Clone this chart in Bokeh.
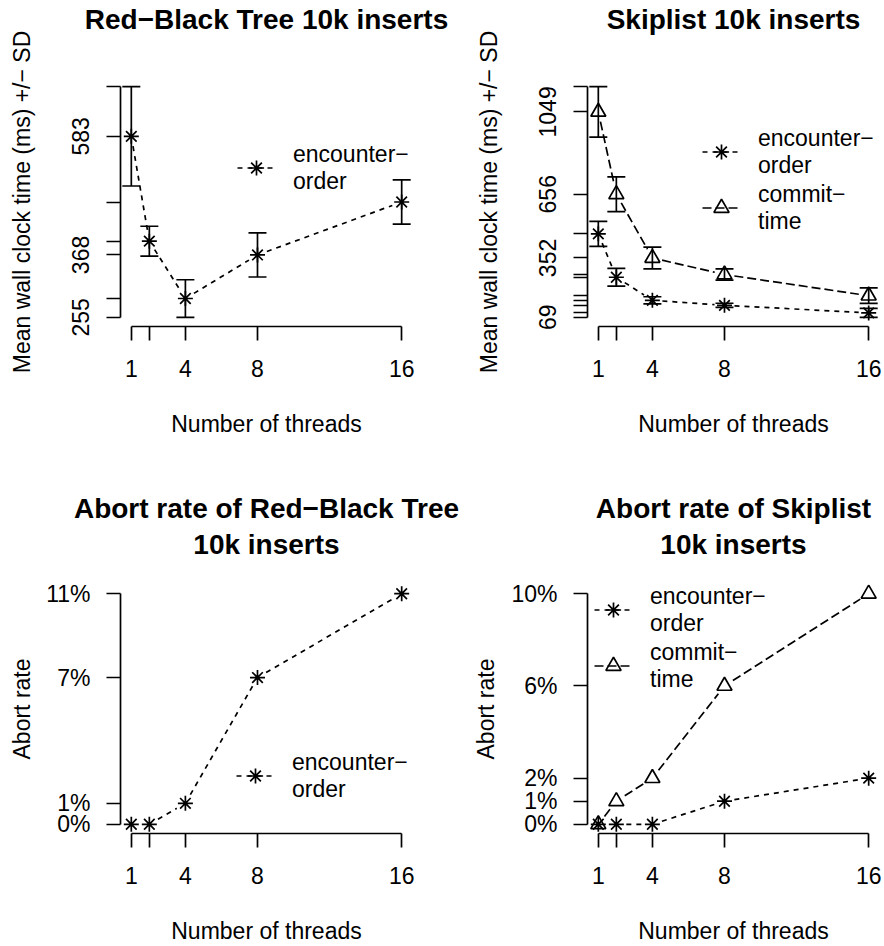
import math
from bokeh.plotting import figure
from bokeh.models import (FixedTicker, LinearAxis, Range1d, Whisker, TeeHead, ColumnDataSource,
                          Legend, LegendItem, PrintfTickFormatter)
from bokeh.layouts import column, row
from bokeh.embed import file_html
from bokeh.resources import INLINE

# ---------------- data ----------------
threads = [1, 2, 4, 8, 16]
thread_labels = ["1", "", "4", "8", "16"]

rb_time_mean = [583, 393, 289, 368, 464]
rb_time_sd = [90, 27, 34, 40, 40]
rb_time_ylabels = [255, 368, 583]

sk_time_enc_mean = [467, 260, 150, 126, 90]
sk_time_enc_sd = [60, 42, 17, 10, 21]
sk_time_com_mean = [1049, 656, 352, 273, 172]
sk_time_com_sd = [120, 83, 52, 27, 37]
sk_time_ylabels = [69, 352, 656, 1049]

rb_abort_enc = [0, 0, 1, 7, 11]
sk_abort_enc = [0, 0, 0, 1, 2]
sk_abort_com = [0, 1, 2, 6, 10]

# ---------------- style ----------------
FONT = "Liberation Sans"
FS = "23px"
TFS = "28px"
LW = 1.7
FW, FH = 292, 250
GAP = 10
DASH_ENC = "5 5"
DASH_COM = "9 4"


def r_range(vals):
    lo, hi = min(vals), max(vals)
    pad = 0.04 * (hi - lo)
    return lo - pad, hi + pad


def make_panel(w, h, bl, bt, xr, yr):
    p = figure(width=w, height=h, x_range=Range1d(*xr), y_range=Range1d(*yr),
               x_axis_type=None, y_axis_type=None,
               output_backend="svg", toolbar_location=None,
               min_border_left=bl, min_border_right=w - bl - FW,
               min_border_top=bt, min_border_bottom=h - bt - FH)
    p.outline_line_color = None
    return p


def style_axis(ax):
    ax.axis_line_width = LW
    ax.axis_line_color = "black"
    ax.major_tick_line_width = LW
    ax.major_tick_line_color = "black"
    ax.major_tick_out = 14
    ax.major_tick_in = 0
    ax.minor_tick_line_color = None
    ax.major_label_text_font = FONT
    ax.major_label_text_font_size = FS
    ax.major_label_text_color = "black"
    ax.axis_label_text_font = FONT
    ax.axis_label_text_font_size = FS
    ax.axis_label_text_font_style = "normal"
    ax.axis_label_text_color = "black"


def add_x_axis(p, label_standoff=31):
    ax = LinearAxis(ticker=FixedTicker(ticks=threads), bounds=(min(threads), max(threads)),
                    axis_label="Number of threads")
    style_axis(ax)
    ax.major_label_overrides = {t: l for t, l in zip(threads, thread_labels)}
    ax.major_label_standoff = 19
    ax.axis_label_standoff = label_standoff
    p.add_layout(ax, "below")


def add_y_axis(p, ticks, label, overrides=None, fmt=None, orient="parallel",
               mstand=17, astand=35):
    ax = LinearAxis(ticker=FixedTicker(ticks=ticks), bounds=(min(ticks), max(ticks)),
                    axis_label=label)
    style_axis(ax)
    if overrides is not None:
        ax.major_label_overrides = overrides
    if fmt is not None:
        ax.formatter = fmt
    ax.major_label_orientation = orient
    ax.major_label_standoff = mstand
    ax.axis_label_standoff = astand
    p.add_layout(ax, "left")


def add_title(p, lines, standoffs):
    # each title line is the label of an otherwise invisible axis above the frame
    for text, so in zip(reversed(lines), standoffs):
        ax = LinearAxis(ticker=FixedTicker(ticks=[]), axis_label=text)
        ax.axis_line_color = None
        ax.major_tick_line_color = None
        ax.minor_tick_line_color = None
        ax.major_tick_out = 0
        ax.major_label_standoff = 0
        ax.axis_label_standoff = so
        ax.axis_label_text_font = FONT
        ax.axis_label_text_font_size = TFS
        ax.axis_label_text_font_style = "bold"
        ax.axis_label_text_color = "black"
        p.add_layout(ax, "above")


def b_segments(xs, ys, xr, yr):
    sx = FW / (xr[1] - xr[0])
    sy = FH / (yr[1] - yr[0])
    x0, y0, x1, y1 = [], [], [], []
    for i in range(len(xs) - 1):
        dx, dy = xs[i + 1] - xs[i], ys[i + 1] - ys[i]
        L = math.hypot(dx * sx, dy * sy)
        if L <= 2 * GAP:
            continue
        t = GAP / L
        x0.append(xs[i] + t * dx)
        y0.append(ys[i] + t * dy)
        x1.append(xs[i + 1] - t * dx)
        y1.append(ys[i + 1] - t * dy)
    return dict(x0=x0, y0=y0, x1=x1, y1=y1)


def series(p, ys, xr, yr, marker, dash):
    seg = p.segment(x0="x0", y0="y0", x1="x1", y1="y1",
                    source=ColumnDataSource(b_segments(threads, ys, xr, yr)),
                    line_color="black", line_width=LW, line_dash=dash)
    sc = p.scatter(threads, ys, marker=marker, size=15, line_color="black",
                   line_width=LW, fill_color=None)
    return seg, sc


def whiskers(p, means, sds):
    src = ColumnDataSource(dict(x=threads,
                                upper=[m + s for m, s in zip(means, sds)],
                                lower=[m - s for m, s in zip(means, sds)]))
    w = Whisker(source=src, base="x", upper="upper", lower="lower",
                line_width=LW, line_color="black",
                upper_head=TeeHead(size=18, line_width=LW, line_color="black"),
                lower_head=TeeHead(size=18, line_width=LW, line_color="black"))
    p.add_layout(w)


def legend(p, items, x, y):
    leg = Legend(items=[LegendItem(label=lab, renderers=list(r)) for lab, r in items],
                 location=(x, y), border_line_color=None, background_fill_alpha=0,
                 padding=0, margin=0, spacing=1, glyph_width=38, glyph_height=55,
                 label_standoff=18, label_text_font=FONT, label_text_font_size=FS,
                 label_text_line_height=1.2, label_text_color="black")
    p.add_layout(leg)


xr = r_range(threads)
TOP_H = 473
BOT_H = 473

# ---------------- panel 1 ----------------
lo1 = [m - s for m, s in zip(rb_time_mean, rb_time_sd)]
hi1 = [m + s for m, s in zip(rb_time_mean, rb_time_sd)]
yr1 = r_range(lo1 + hi1)
p1 = make_panel(465, TOP_H, 120, 76, xr, yr1)
whiskers(p1, rb_time_mean, rb_time_sd)
s1 = series(p1, rb_time_mean, xr, yr1, "asterisk", DASH_ENC)
t1 = sorted(set(rb_time_mean + [min(lo1), max(hi1)]))
add_x_axis(p1)
add_y_axis(p1, t1, "Mean wall clock time (ms) +/\u2212 SD",
           overrides={t: (str(t) if t in rb_time_ylabels else "") for t in t1})
add_title(p1, ["Red\u2212Black Tree 10k inserts"], [43])
legend(p1, [("encounter\u2212\norder", s1)], 117, 131)

# ---------------- panel 2 ----------------
lo2 = [m - s for m, s in zip(sk_time_enc_mean + sk_time_com_mean, sk_time_enc_sd + sk_time_com_sd)]
hi2 = [m + s for m, s in zip(sk_time_enc_mean + sk_time_com_mean, sk_time_enc_sd + sk_time_com_sd)]
yr2 = r_range(lo2 + hi2)
p2 = make_panel(419, TOP_H, 122, 76, xr, yr2)
whiskers(p2, sk_time_enc_mean, sk_time_enc_sd)
whiskers(p2, sk_time_com_mean, sk_time_com_sd)
s2e = series(p2, sk_time_enc_mean, xr, yr2, "asterisk", DASH_ENC)
s2c = series(p2, sk_time_com_mean, xr, yr2, "triangle", DASH_COM)
t2 = sorted(set(sk_time_enc_mean + sk_time_com_mean + [min(lo2), max(hi2)]))
add_x_axis(p2)
add_y_axis(p2, t2, "Mean wall clock time (ms) +/\u2212 SD",
           overrides={t: (str(t) if t in sk_time_ylabels else "") for t in t2})
add_title(p2, ["Skiplist 10k inserts"], [43])
legend(p2, [("encounter\u2212\norder", s2e), ("commit\u2212\ntime", s2c)], 115, 91)

# ---------------- panel 3 ----------------
yr3 = r_range(rb_abort_enc)
p3 = make_panel(465, BOT_H, 120, 111, xr, yr3)
s3 = series(p3, rb_abort_enc, xr, yr3, "asterisk", DASH_ENC)
add_x_axis(p3)
add_y_axis(p3, sorted(set(rb_abort_enc)), "Abort rate", fmt=PrintfTickFormatter(format="%d%%"),
           orient="horizontal", mstand=16, astand=8)
add_title(p3, ["Abort rate of Red\u2212Black Tree", "10k inserts"], [25, 2])
legend(p3, [("encounter\u2212\norder", s3)], 116, 30)

# ---------------- panel 4 ----------------
yr4 = r_range(sk_abort_enc + sk_abort_com)
p4 = make_panel(419, BOT_H, 122, 111, xr, yr4)
s4e = series(p4, sk_abort_enc, xr, yr4, "asterisk", DASH_ENC)
s4c = series(p4, sk_abort_com, xr, yr4, "triangle", DASH_COM)
add_x_axis(p4)
add_y_axis(p4, sorted(set(sk_abort_enc + sk_abort_com)), "Abort rate",
           fmt=PrintfTickFormatter(format="%d%%"), orient="horizontal", mstand=16, astand=9)
add_title(p4, ["Abort rate of Skiplist", "10k inserts"], [25, 2])
legend(p4, [("encounter\u2212\norder", s4e), ("commit\u2212\ntime", s4c)], 7, 140)

layout = column(row(p1, p2), row(p3, p4))
open("out.html", "w").write(file_html(layout, INLINE))
